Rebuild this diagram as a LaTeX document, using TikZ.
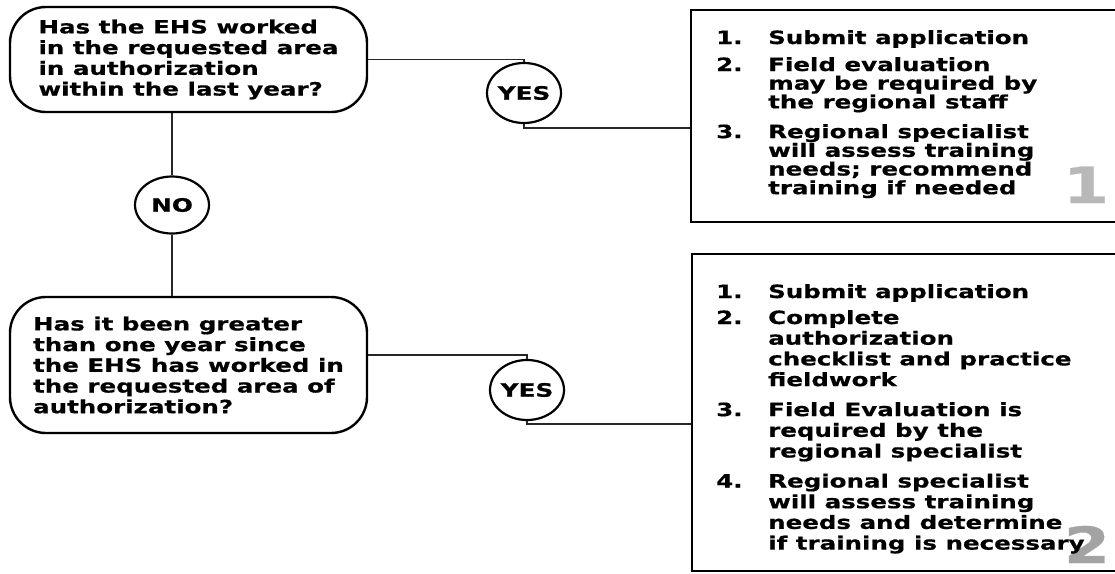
\documentclass[tikz,border=0pt]{standalone}
\usepackage{fontspec}
\newfontfamily\vf{DejaVu Sans}[FakeStretch=1.34,FakeBold=0.6]
\usetikzlibrary{shapes.geometric,calc}
\newcommand\itm[1]{\makebox[52pt][l]{#1}}
\newcommand\ind{\hspace*{52pt}}
\begin{document}
\begin{tikzpicture}[x=1pt,y=-1pt,
  qbox/.style={draw=black, line width=2.4pt, rounded corners=36pt, align=left, inner sep=0pt,
    font=\vf\bfseries\fontsize{18.3}{20.7}\selectfont},
  ans/.style={draw=black, ellipse, line width=2.2pt, inner sep=0pt,
    font=\vf\bfseries\fontsize{18.5}{20}\selectfont},
  listbox/.style={draw=black, line width=2.4pt, rectangle, inner sep=0pt},
  lst/.style={align=left, inner sep=0pt, anchor=base west},
  conn/.style={draw=black!85, line width=1.4pt},
  bignum/.style={font=\vf\bfseries\fontsize{50}{50}\selectfont, inner sep=0pt, anchor=base}
]
\useasboundingbox (0,0) rectangle (1115,573);
\clip (0,0) rectangle (1115,573);
\fill[white] (0,0) rectangle (1115,573);

% questions
\node[qbox, minimum width=357pt, minimum height=105pt] (q1) at (188.5,59.5)
  {Has the EHS worked\\in the requested area\\in authorization\\within the last year?};
\node[qbox, minimum width=357pt, minimum height=136pt] (q2) at (188.5,365)
  {Has it been greater\\than one year since\\the EHS has worked in\\the requested area of\\authorization?};

% answers
\node[ans, minimum width=74pt, minimum height=60pt] (yes1) at (524,93) {\makebox[0pt]{YES}};
\node[ans, minimum width=74pt, minimum height=57pt] (no) at (172,205) {\makebox[0pt]{NO}};
\node[ans, minimum width=74pt, minimum height=60pt] (yes2) at (527,390) {\makebox[0pt]{YES}};

% result boxes
\node[listbox, minimum width=449pt, minimum height=212pt] (b1) at (915.5,116) {};
\node[listbox, minimum width=448pt, minimum height=317pt] (b2) at (916,412.5) {};

\node[bignum, text=black!28] (n1) at (1086,203) {1};
\node[bignum, text=black!36] (n2) at (1087,563) {2};

\node[lst, font=\vf\bfseries\fontsize{18.3}{18.7}\selectfont] (b1t) at (716,194.2)
  {\itm{1.}Submit application\\[8.3pt]
   \itm{2.}Field evaluation\\
   \ind may be required by\\
   \ind the regional staff\\[11pt]
   \itm{3.}Regional specialist\\
   \ind will assess training\\
   \ind needs; recommend\\
   \ind training if needed};

\node[lst, font=\vf\bfseries\fontsize{18.3}{20.7}\selectfont] (b2t) at (716,549.6)
  {\itm{1.}Submit application\\[5.3pt]
   \itm{2.}Complete\\
   \ind authorization\\
   \ind checklist and practice\\
   \ind fieldwork\\[9.3pt]
   \itm{3.}Field Evaluation is\\
   \ind required by the\\
   \ind regional specialist\\[9.3pt]
   \itm{4.}Regional specialist\\
   \ind will assess training\\
   \ind needs and determine\\
   \ind if training is necessary};

% connectors
\draw[conn] (q1.east) -| (yes1.north);
\draw[conn] (yes1.south) |- ($(yes1.south -| b1.west)+(0,4)$);
\draw[conn] (q1.south -| no.north) -- (no.north);
\draw[conn] (no.south) -- (no.south |- q2.north);
\draw[conn] ($(q2.east)+(0,-10)$) -| (yes2.north);
\draw[conn] (yes2.south) |- ($(yes2.south -| b2.west)+(0,3)$);
\end{tikzpicture}
\end{document}
